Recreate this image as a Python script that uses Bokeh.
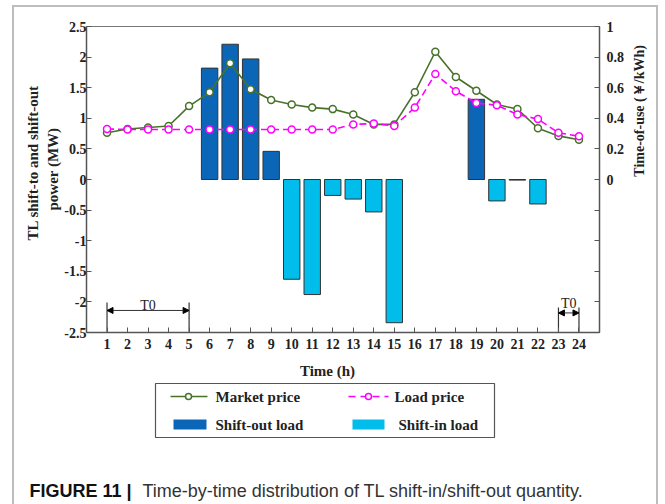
from bokeh.plotting import figure
from bokeh.layouts import column, row
from bokeh.models import (ColumnDataSource, Range1d, LinearAxis, FixedTicker, Label,
                          Title, Arrow, NormalHead)
from bokeh.embed import file_html
from bokeh.resources import INLINE

# ---- data -------------------------------------------------------------
hours = list(range(1, 25))
# TL shift power per hour (MW): positive = shift-out, negative = shift-in
shift_power = [0, 0, 0, 0, 0, 1.82, 2.21, 1.97, 0.46, -1.63, -1.88, -0.26,
               -0.32, -0.53, -2.34, 0, 0, 0, 1.31, -0.35, -0.01, -0.40, 0, 0]
# time-of-use prices (yuan/kWh)
market_price = [0.305, 0.33, 0.34, 0.35, 0.48, 0.57, 0.76, 0.59, 0.52, 0.49, 0.47, 0.46,
                0.425, 0.36, 0.36, 0.57, 0.835, 0.67, 0.58, 0.49, 0.46, 0.335, 0.285, 0.26]
load_price = [0.33, 0.327, 0.327, 0.327, 0.327, 0.327, 0.327, 0.327, 0.327, 0.327, 0.327, 0.327,
              0.36, 0.366, 0.35, 0.47, 0.69, 0.577, 0.50, 0.485, 0.425, 0.395, 0.305, 0.283]

left_ticks = [-2.5, -2, -1.5, -1, -0.5, 0, 0.5, 1, 1.5, 2, 2.5]
left_labels = ["-2.5", "-2", "-1.5", "-1", "-0.5", "0", "0.5", "1", "1.5", "2", "2.5"]
right_ticks = [-1, -0.8, -0.6, -0.4, -0.2, 0, 0.2, 0.4, 0.6, 0.8, 1]
right_labels = ["", "", "", "", "", "0", "0.2", "0.4", "0.6", "0.8", "1"]

# T0 windows: (start hour, end hour, bracket top, arrow level, label level)
t0_windows = [(1, 5, -2.01, -2.14, -2.06), (23, 24, -2.09, -2.18, -2.03)]

legend_names = ["Market price", "Load price", "Shift-out load", "Shift-in load"]
caption_head = "FIGURE 11 |"
caption_body = "Time-by-time distribution of TL shift-in/shift-out quantity."

DARK = "#0B66B8"
CYAN = "#00BDEB"
GREEN = "#48722A"
MAGENTA = "#FF00FF"
INK = "#222222"
SERIF = "Liberation Serif"
SANS = "Liberation Sans"

out_h = [h for h, v in zip(hours, shift_power) if v > 0]
out_v = [v for v in shift_power if v > 0]
in_h = [h for h, v in zip(hours, shift_power) if v < 0]
in_v = [v for v in shift_power if v < 0]

# ---- main chart -----------------------------------------------------------
p = figure(width=613, height=348, output_backend="svg", toolbar_location=None,
           x_range=Range1d(0, 25), y_range=Range1d(-2.5, 2.5),
           min_border_left=72, min_border_right=28, min_border_top=19, min_border_bottom=23)
p.extra_y_ranges = {"price": Range1d(-1, 1)}
p.grid.visible = False
p.outline_line_color = "#777777"
p.outline_line_width = 1


def style_axis(ax):
    ax.major_tick_in = 5
    ax.major_tick_out = 0
    ax.minor_tick_line_color = None
    ax.axis_line_color = "#555555"
    ax.axis_line_width = 1.5
    ax.major_tick_line_color = "#555555"
    ax.major_label_text_font = SERIF
    ax.major_label_text_font_style = "bold"
    ax.major_label_text_font_size = "14px"
    ax.major_label_text_color = INK


xa = p.xaxis[0]
xa.ticker = FixedTicker(ticks=hours)
style_axis(xa)
xa.major_label_standoff = 6

ya = p.yaxis[0]
ya.ticker = FixedTicker(ticks=left_ticks)
ya.major_label_overrides = dict(zip(left_ticks, left_labels))
style_axis(ya)
ya.major_label_standoff = 0

ra = LinearAxis(y_range_name="price", ticker=FixedTicker(ticks=right_ticks))
ra.major_label_overrides = dict(zip(right_ticks, right_labels))
style_axis(ra)
ra.major_label_standoff = 7
p.add_layout(ra, "right")

# left axis title, two lines stacked outward from the axis
for txt, off in [("power (MW)", 122), ("TL shift-to and shift-out", 92)]:
    p.add_layout(Title(text=txt, align="left", offset=off, standoff=2,
                       text_font=SERIF, text_font_style="bold", text_font_size="15px",
                       text_color=INK), "left")

# bars
r_out = p.vbar(x=out_h, top=out_v, bottom=0, width=0.8, fill_color=DARK,
               line_color="#333333", line_width=1)
r_in = p.vbar(x=in_h, top=0, bottom=in_v, width=0.8, fill_color=CYAN,
              line_color="#333333", line_width=1)

# price lines on the right-hand scale
src = ColumnDataSource(dict(h=hours, mp=market_price, lp=load_price))
p.line("h", "mp", source=src, y_range_name="price", line_color=GREEN, line_width=1.6)
p.scatter("h", "mp", source=src, y_range_name="price", size=7, marker="circle",
          line_color=GREEN, fill_color="white", line_width=1.5)
p.line("h", "lp", source=src, y_range_name="price", line_color=MAGENTA,
       line_width=1.6, line_dash="7 4")
p.scatter("h", "lp", source=src, y_range_name="price", size=7, marker="circle",
          line_color=MAGENTA, fill_color="white", line_width=1.5)

# T0 brackets
for x0, x1, top, lvl, lab in t0_windows:
    p.segment(x0=[x0, x1], y0=[-2.5, -2.5], x1=[x0, x1], y1=[top, top],
              line_color="#333333", line_width=1.2)
    p.add_layout(Arrow(x_start=x0, y_start=lvl, x_end=x1, y_end=lvl,
                       line_color="#333333", line_width=1,
                       start=NormalHead(size=6, fill_color="black", line_color="black"),
                       end=NormalHead(size=6, fill_color="black", line_color="black")))
    p.add_layout(Label(x=(x0 + x1) / 2, y=lab, text="T0", text_align="center",
                       text_baseline="middle", text_font=SERIF, text_font_size="14px",
                       text_color=INK))


def canvas_fig(w, h, x0, y0):
    """Blank figure whose data units are page pixels (y grows downward)."""
    f = figure(width=w, height=h, output_backend="svg", toolbar_location=None,
               x_range=Range1d(x0, x0 + w), y_range=Range1d(y0 + h, y0),
               min_border=0, x_axis_type=None, y_axis_type=None)
    f.grid.visible = False
    f.outline_line_color = None
    return f


# ---- right axis title -----------------------------------------------------
pr = canvas_fig(29, 348, 627, 7)
pr.add_layout(Label(x=639, y=103, angle=90, angle_units="deg", text="Time-of-use (￥/kWh)",
                    text_align="center", text_baseline="middle", text_font=SERIF,
                    text_font_style="bold", text_font_size="14px", text_color=INK))

# ---- x title, legend and caption ------------------------------------------
pb = canvas_fig(642, 149, 14, 355)
pb.add_layout(Label(x=327, y=370, text="Time (h)", text_align="center", text_baseline="middle",
                    text_font=SERIF, text_font_style="bold", text_font_size="15px",
                    text_color=INK))
pb.quad(left=[155], right=[494], top=[383], bottom=[437], fill_color="white",
        line_color="#555555", line_width=1.2)
pb.segment(x0=[170], y0=[396], x1=[207], y1=[396], line_color=GREEN, line_width=1.6)
pb.scatter(x=[188], y=[396], size=6, line_color=GREEN, fill_color="white", line_width=1.5)
pb.segment(x0=[348], y0=[396], x1=[388], y1=[396], line_color=MAGENTA, line_width=1.6,
           line_dash="7 5")
pb.scatter(x=[368], y=[396], size=6, line_color=MAGENTA, fill_color="white", line_width=1.5)
pb.quad(left=[173, 352], right=[206, 384], top=[419, 419], bottom=[429, 429],
        fill_color=[DARK, CYAN], line_color=None)
for (lx, ly), name in zip([(215, 396), (394, 396), (215, 424), (398, 424)], legend_names):
    pb.add_layout(Label(x=lx, y=ly, text=name, text_baseline="middle", text_font=SERIF,
                        text_font_style="bold", text_font_size="15px", text_color=INK))
pb.add_layout(Label(x=29, y=490, text=caption_head, text_baseline="alphabetic",
                    text_font=SANS, text_font_style="bold", text_font_size="18px",
                    text_color="#111111"))
pb.add_layout(Label(x=142, y=490, text=caption_body, text_baseline="alphabetic",
                    text_font=SANS, text_font_size="18px", text_color="#333333"))

page = column(row(p, pr), pb, margin=(5, 0, 0, 12), spacing=0,
              styles={"border-top": "2px solid #BDBDBD", "border-left": "2px solid #BDBDBD",
                      "border-right": "2px solid #BDBDBD"})

open("out.html", "w").write(file_html(page, INLINE))
